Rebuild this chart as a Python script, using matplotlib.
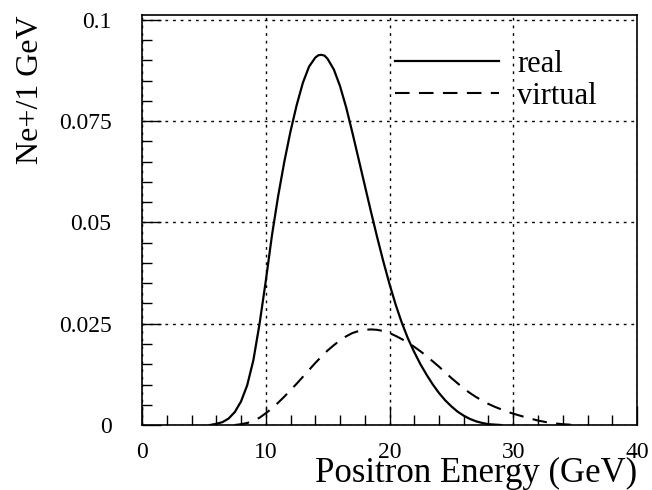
import matplotlib
matplotlib.use("Agg")
import matplotlib.pyplot as plt
from matplotlib.ticker import MultipleLocator, FixedLocator

plt.rcParams['font.family'] = ['Liberation Serif', 'DejaVu Serif']

real_x = [5.5, 6, 6.5, 7, 7.5, 8, 8.5, 9, 9.5, 10, 10.5, 11, 11.5, 12, 12.5, 13,
          13.5, 14, 14.25, 14.5, 14.75, 15, 15.5, 16, 16.5, 17, 17.5, 18, 18.5,
          19, 19.5, 20, 20.5, 21, 21.5, 22, 22.5, 23, 23.5, 24, 24.5, 25, 25.5,
          26, 26.5, 27, 27.5, 28, 28.5, 29]
real_y = [0.0, 0.0003, 0.0007, 0.0016, 0.0032, 0.0058, 0.0098, 0.016, 0.025,
          0.0355, 0.0468, 0.0565, 0.065, 0.0725, 0.079, 0.0845, 0.0885, 0.0907,
          0.0913, 0.0914, 0.0912, 0.0904, 0.0878, 0.0837, 0.0784, 0.0722, 0.0657,
          0.0592, 0.0527, 0.0464, 0.0404, 0.0348, 0.0297, 0.0252, 0.0213, 0.018,
          0.015, 0.0124, 0.010, 0.0079, 0.0061, 0.0046, 0.0033, 0.0023, 0.0015,
          0.0009, 0.0005, 0.0002, 0.0001, 0.0]

virt_x = [7.5, 8, 8.5, 9, 9.5, 10, 10.5, 11, 11.5, 12, 12.5, 13, 13.5, 14, 14.5,
          15, 15.5, 16, 16.5, 17, 17.5, 18, 18.5, 19, 19.5, 20, 20.5, 21, 21.5,
          22, 22.5, 23, 23.5, 24, 24.5, 25, 25.5, 26, 26.5, 27, 27.5, 28, 28.5,
          29, 29.5, 30, 31, 32, 33, 34, 35]
virt_y = [0.0, 0.0002, 0.0005, 0.001, 0.0018, 0.0029, 0.0041, 0.0055, 0.007,
          0.0086, 0.0102, 0.0119, 0.0136, 0.0153, 0.0169, 0.0184, 0.0197, 0.0209,
          0.0219, 0.0227, 0.0232, 0.0235, 0.0236, 0.0235, 0.0232, 0.0227, 0.022,
          0.0212, 0.0203, 0.0193, 0.0182, 0.017, 0.0157, 0.0144, 0.013, 0.0116,
          0.0103, 0.009, 0.0079, 0.0069, 0.006, 0.0052, 0.0045, 0.0039, 0.0033,
          0.0028, 0.0019, 0.0011, 0.0005, 0.0002, 0.0]

x_ticks = [0, 10, 20, 30, 40]
y_ticks = [0, 0.025, 0.05, 0.075, 0.1]
y_tick_labels = ["0", "0.025", "0.05", "0.075", "0.1"]

fig = plt.figure(figsize=(6.52, 4.90), dpi=100)
ax = fig.add_axes([142/652, 1 - 425/490, (637 - 142)/652, (425 - 15)/490])

ax.plot(real_x, real_y, color='black', lw=1.6, label='real')
ax.plot(virt_x, virt_y, color='black', lw=1.5, dashes=(7, 4.5), label='virtual')

ax.set_xlim(0, 40)
ax.set_ylim(0, 0.1 * 410 / 405)

ax.xaxis.set_major_locator(FixedLocator(x_ticks))
ax.xaxis.set_minor_locator(MultipleLocator(2))
ax.yaxis.set_major_locator(FixedLocator(y_ticks))
ax.set_yticklabels(y_tick_labels)
ax.yaxis.set_minor_locator(MultipleLocator(0.005))

ax.tick_params(which='major', direction='in', length=14, width=1.0,
               labelsize=17, top=False, right=False)
ax.tick_params(which='minor', direction='in', length=7, width=1.0,
               top=False, right=False)
ax.tick_params(axis='x', which='major', pad=12)
ax.tick_params(axis='y', which='major', pad=22)

ax.grid(True, which='major', color='black', linestyle=(0, (2, 3.5)), lw=1.0)
for s in ax.spines.values():
    s.set_linewidth(1.2)

ax.set_xlabel('Positron Energy (GeV)', fontsize=25, loc='right', labelpad=-4)
ax.set_ylabel('Ne+/1 GeV', fontsize=23, loc='top', labelpad=10)

ax.legend(loc='upper right', bbox_to_anchor=(0.962, 0.968), frameon=False,
          fontsize=22, handlelength=3.4, handletextpad=0.6, labelspacing=0.12,
          borderpad=0.2)

fig.savefig('out.png', dpi=100)
